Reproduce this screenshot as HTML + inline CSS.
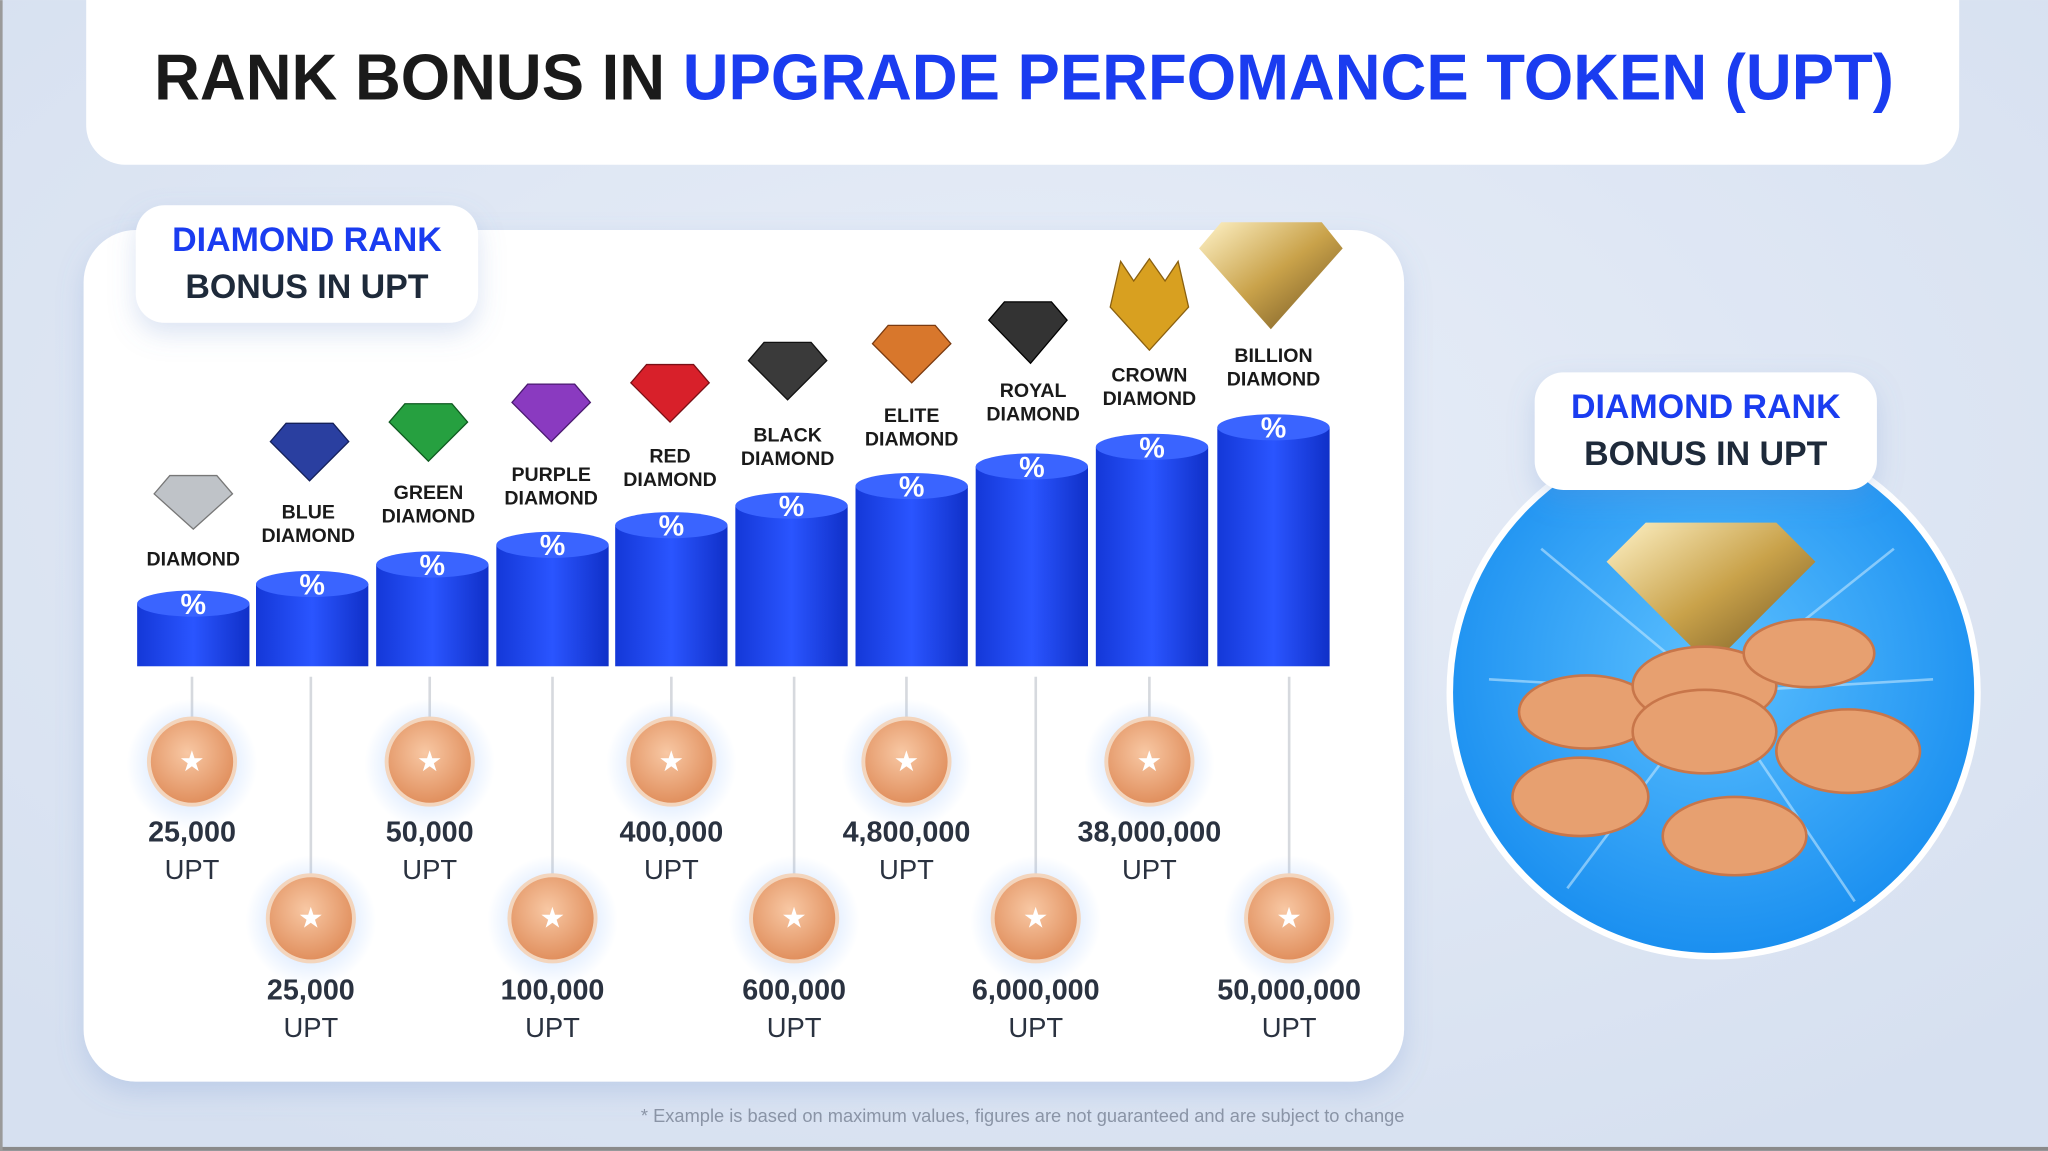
<!DOCTYPE html>
<html><head><meta charset="utf-8"><style>
html,body{margin:0;padding:0;background:#dfe7f3;}
svg{display:block;font-family:"Liberation Sans",sans-serif;}
</style></head><body>
<svg width="2048" height="1151" viewBox="0 0 1568 881" xmlns="http://www.w3.org/2000/svg">
<defs>
<radialGradient id="bg" cx="50%" cy="40%" r="70%"><stop offset="0" stop-color="#e8eef8"/><stop offset="1" stop-color="#d6e0f0"/></radialGradient>
<radialGradient id="cir" cx="50%" cy="45%" r="55%"><stop offset="0" stop-color="#5cc0ff"/><stop offset="1" stop-color="#1a8ff0"/></radialGradient>
<linearGradient id="col" x1="0" x2="1"><stop offset="0" stop-color="#1438d8"/><stop offset=".5" stop-color="#2a55ff"/><stop offset="1" stop-color="#1030c8"/></linearGradient>
<radialGradient id="coin" cx="45%" cy="40%" r="60%"><stop offset="0" stop-color="#f8c8a4"/><stop offset="1" stop-color="#e08e5c"/></radialGradient>
<radialGradient id="glow"><stop offset="0" stop-color="#9cc4ff" stop-opacity=".7"/><stop offset="1" stop-color="#9cc4ff" stop-opacity="0"/></radialGradient>
<linearGradient id="gold" x1="0" y1="0" x2="1" y2="1"><stop offset="0" stop-color="#fff3c8"/><stop offset=".5" stop-color="#c9a24a"/><stop offset="1" stop-color="#6b5020"/></linearGradient>
<filter id="sh" x="-20%" y="-20%" width="140%" height="160%"><feDropShadow dx="0" dy="8" stdDeviation="10" flood-color="#7090d0" flood-opacity=".25"/></filter>
</defs>
<rect width="1568" height="881" fill="url(#bg)"/>
<rect x="0" y="878" width="1568" height="3" fill="#8a8a8a"/>
<rect x="0" y="0" width="2" height="881" fill="#9a9a9a"/>
<rect x="66" y="-30" width="1434" height="156" rx="30" fill="#fff"/>
<text x="118" y="76" textLength="1332" lengthAdjust="spacingAndGlyphs" font-size="50" font-weight="bold" fill="#1a1a1a">RANK BONUS IN <tspan fill="#1a3cf0">UPGRADE PERFOMANCE TOKEN (UPT)</tspan></text>
<rect x="64" y="176" width="1011" height="652" rx="40" fill="#fff" filter="url(#sh)"/>
<rect x="104" y="157" width="262" height="90" rx="22" fill="#fff" filter="url(#sh)"/>
<text x="235" y="192" text-anchor="middle" font-size="26" font-weight="bold" fill="#1a3cf0">DIAMOND RANK</text>
<text x="235" y="228" text-anchor="middle" font-size="26" font-weight="bold" fill="#1e2a3a">BONUS IN UPT</text>
<circle cx="1312" cy="530" r="202" fill="url(#cir)" stroke="#fff" stroke-width="5"/>
<g stroke="#bfe6ff" stroke-width="2" opacity=".6">
<line x1="1312" y1="530" x2="1180" y2="420"/><line x1="1312" y1="530" x2="1450" y2="420"/><line x1="1312" y1="530" x2="1140" y2="520"/><line x1="1312" y1="530" x2="1480" y2="520"/><line x1="1312" y1="530" x2="1200" y2="680"/><line x1="1312" y1="530" x2="1420" y2="690"/>
</g>
<polygon points="1230,430 1260,400 1360,400 1390,430 1310,510" fill="url(#gold)"/>
<g fill="#e7a070" stroke="#c8764a" stroke-width="2">
<ellipse cx="1215" cy="545" rx="52" ry="28"/><ellipse cx="1305" cy="525" rx="55" ry="30"/><ellipse cx="1385" cy="500" rx="50" ry="26"/>
<ellipse cx="1210" cy="610" rx="52" ry="30"/><ellipse cx="1305" cy="560" rx="55" ry="32"/><ellipse cx="1415" cy="575" rx="55" ry="32"/><ellipse cx="1328" cy="640" rx="55" ry="30"/>
</g>
<rect x="1175" y="285" width="262" height="90" rx="22" fill="#fff" filter="url(#sh)"/>
<text x="1306" y="320" text-anchor="middle" font-size="26" font-weight="bold" fill="#1a3cf0">DIAMOND RANK</text>
<text x="1306" y="356" text-anchor="middle" font-size="26" font-weight="bold" fill="#1e2a3a">BONUS IN UPT</text>
<text x="783" y="859" text-anchor="middle" font-size="14" fill="#8a94a6">* Example is based on maximum values, figures are not guaranteed and are subject to change</text>

<g>
<rect x="105" y="462" width="86" height="48" fill="url(#col)"/><ellipse cx="148" cy="462" rx="43" ry="10" fill="#3a64ff"/><text x="148" y="470" text-anchor="middle" font-size="22" font-weight="bold" fill="#fff">%</text>
<rect x="196" y="447" width="86" height="63" fill="url(#col)"/><ellipse cx="239" cy="447" rx="43" ry="10" fill="#3a64ff"/><text x="239" y="455" text-anchor="middle" font-size="22" font-weight="bold" fill="#fff">%</text>
<rect x="288" y="432" width="86" height="78" fill="url(#col)"/><ellipse cx="331" cy="432" rx="43" ry="10" fill="#3a64ff"/><text x="331" y="440" text-anchor="middle" font-size="22" font-weight="bold" fill="#fff">%</text>
<rect x="380" y="417" width="86" height="93" fill="url(#col)"/><ellipse cx="423" cy="417" rx="43" ry="10" fill="#3a64ff"/><text x="423" y="425" text-anchor="middle" font-size="22" font-weight="bold" fill="#fff">%</text>
<rect x="471" y="402" width="86" height="108" fill="url(#col)"/><ellipse cx="514" cy="402" rx="43" ry="10" fill="#3a64ff"/><text x="514" y="410" text-anchor="middle" font-size="22" font-weight="bold" fill="#fff">%</text>
<rect x="563" y="387" width="86" height="123" fill="url(#col)"/><ellipse cx="606" cy="387" rx="43" ry="10" fill="#3a64ff"/><text x="606" y="395" text-anchor="middle" font-size="22" font-weight="bold" fill="#fff">%</text>
<rect x="655" y="372" width="86" height="138" fill="url(#col)"/><ellipse cx="698" cy="372" rx="43" ry="10" fill="#3a64ff"/><text x="698" y="380" text-anchor="middle" font-size="22" font-weight="bold" fill="#fff">%</text>
<rect x="747" y="357" width="86" height="153" fill="url(#col)"/><ellipse cx="790" cy="357" rx="43" ry="10" fill="#3a64ff"/><text x="790" y="365" text-anchor="middle" font-size="22" font-weight="bold" fill="#fff">%</text>
<rect x="839" y="342" width="86" height="168" fill="url(#col)"/><ellipse cx="882" cy="342" rx="43" ry="10" fill="#3a64ff"/><text x="882" y="350" text-anchor="middle" font-size="22" font-weight="bold" fill="#fff">%</text>
<rect x="932" y="327" width="86" height="183" fill="url(#col)"/><ellipse cx="975" cy="327" rx="43" ry="10" fill="#3a64ff"/><text x="975" y="335" text-anchor="middle" font-size="22" font-weight="bold" fill="#fff">%</text>
</g>
<g>
<polygon points="118,378 130,364 166,364 178,378 148,405" fill="#bfc3c8" stroke="#777"/>
<polygon points="207,338 219,324 255,324 267,338 237,368" fill="#2a3fa0" stroke="#14205a"/>
<polygon points="298,323 310,309 346,309 358,323 328,353" fill="#26a040" stroke="#0f5a20"/>
<polygon points="392,308 404,294 440,294 452,308 422,338" fill="#8a3ac0" stroke="#4a1a70"/>
<polygon points="483,293 495,279 531,279 543,293 513,323" fill="#d8202a" stroke="#7a1016"/>
<polygon points="573,276 585,262 621,262 633,276 603,306" fill="#3a3a3a" stroke="#111"/>
<polygon points="668,263 680,249 716,249 728,263 698,293" fill="#d8772c" stroke="#7a3a10"/>
<polygon points="757,245 769,231 805,231 817,245 789,278" fill="#333" stroke="#000"/>
<polygon points="850,235 858,200 868,215 880,198 892,215 902,200 910,235 880,268" fill="#d8a020" stroke="#8a6010"/>
<polygon points="918,190 935,170 1012,170 1028,190 973,252" fill="url(#gold)"/>
</g>
<g font-weight="bold" font-size="15" fill="#1a1a1a" text-anchor="middle">
<text x="148" y="433">DIAMOND</text>
<text x="236" y="397">BLUE</text><text x="236" y="415">DIAMOND</text>
<text x="328" y="382">GREEN</text><text x="328" y="400">DIAMOND</text>
<text x="422" y="368">PURPLE</text><text x="422" y="386">DIAMOND</text>
<text x="513" y="354">RED</text><text x="513" y="372">DIAMOND</text>
<text x="603" y="338">BLACK</text><text x="603" y="356">DIAMOND</text>
<text x="698" y="323">ELITE</text><text x="698" y="341">DIAMOND</text>
<text x="791" y="304">ROYAL</text><text x="791" y="322">DIAMOND</text>
<text x="880" y="292">CROWN</text><text x="880" y="310">DIAMOND</text>
<text x="975" y="277">BILLION</text><text x="975" y="295">DIAMOND</text>
</g>
<g stroke="#d6d9de" stroke-width="2">
<line x1="147" y1="518" x2="147" y2="555"/><line x1="238" y1="518" x2="238" y2="675"/><line x1="329" y1="518" x2="329" y2="555"/><line x1="423" y1="518" x2="423" y2="675"/><line x1="514" y1="518" x2="514" y2="555"/><line x1="608" y1="518" x2="608" y2="675"/><line x1="694" y1="518" x2="694" y2="555"/><line x1="793" y1="518" x2="793" y2="675"/><line x1="880" y1="518" x2="880" y2="555"/><line x1="987" y1="518" x2="987" y2="675"/>
</g>
<g>
<circle cx="147" cy="585" r="50" fill="url(#glow)"/><circle cx="147" cy="583" r="33" fill="url(#coin)" stroke="#f3d5bd" stroke-width="3"/>
<circle cx="329" cy="585" r="50" fill="url(#glow)"/><circle cx="329" cy="583" r="33" fill="url(#coin)" stroke="#f3d5bd" stroke-width="3"/>
<circle cx="514" cy="585" r="50" fill="url(#glow)"/><circle cx="514" cy="583" r="33" fill="url(#coin)" stroke="#f3d5bd" stroke-width="3"/>
<circle cx="694" cy="585" r="50" fill="url(#glow)"/><circle cx="694" cy="583" r="33" fill="url(#coin)" stroke="#f3d5bd" stroke-width="3"/>
<circle cx="880" cy="585" r="50" fill="url(#glow)"/><circle cx="880" cy="583" r="33" fill="url(#coin)" stroke="#f3d5bd" stroke-width="3"/>
<circle cx="238" cy="705" r="50" fill="url(#glow)"/><circle cx="238" cy="703" r="33" fill="url(#coin)" stroke="#f3d5bd" stroke-width="3"/>
<circle cx="423" cy="705" r="50" fill="url(#glow)"/><circle cx="423" cy="703" r="33" fill="url(#coin)" stroke="#f3d5bd" stroke-width="3"/>
<circle cx="608" cy="705" r="50" fill="url(#glow)"/><circle cx="608" cy="703" r="33" fill="url(#coin)" stroke="#f3d5bd" stroke-width="3"/>
<circle cx="793" cy="705" r="50" fill="url(#glow)"/><circle cx="793" cy="703" r="33" fill="url(#coin)" stroke="#f3d5bd" stroke-width="3"/>
<circle cx="987" cy="705" r="50" fill="url(#glow)"/><circle cx="987" cy="703" r="33" fill="url(#coin)" stroke="#f3d5bd" stroke-width="3"/>
</g>
<g fill="#fff" font-size="22" text-anchor="middle">
<text x="147" y="590">★</text><text x="329" y="590">★</text><text x="514" y="590">★</text><text x="694" y="590">★</text><text x="880" y="590">★</text>
<text x="238" y="710">★</text><text x="423" y="710">★</text><text x="608" y="710">★</text><text x="793" y="710">★</text><text x="987" y="710">★</text>
</g>
<g text-anchor="middle" fill="#2a3240">
<g font-size="22" font-weight="bold">
<text x="147" y="644">25,000</text><text x="329" y="644">50,000</text><text x="514" y="644">400,000</text><text x="694" y="644">4,800,000</text><text x="880" y="644">38,000,000</text>
<text x="238" y="765">25,000</text><text x="423" y="765">100,000</text><text x="608" y="765">600,000</text><text x="793" y="765">6,000,000</text><text x="987" y="765">50,000,000</text>
</g>
<g font-size="21">
<text x="147" y="673">UPT</text><text x="329" y="673">UPT</text><text x="514" y="673">UPT</text><text x="694" y="673">UPT</text><text x="880" y="673">UPT</text>
<text x="238" y="794">UPT</text><text x="423" y="794">UPT</text><text x="608" y="794">UPT</text><text x="793" y="794">UPT</text><text x="987" y="794">UPT</text>
</g>
</g>
</svg>
</body></html>
